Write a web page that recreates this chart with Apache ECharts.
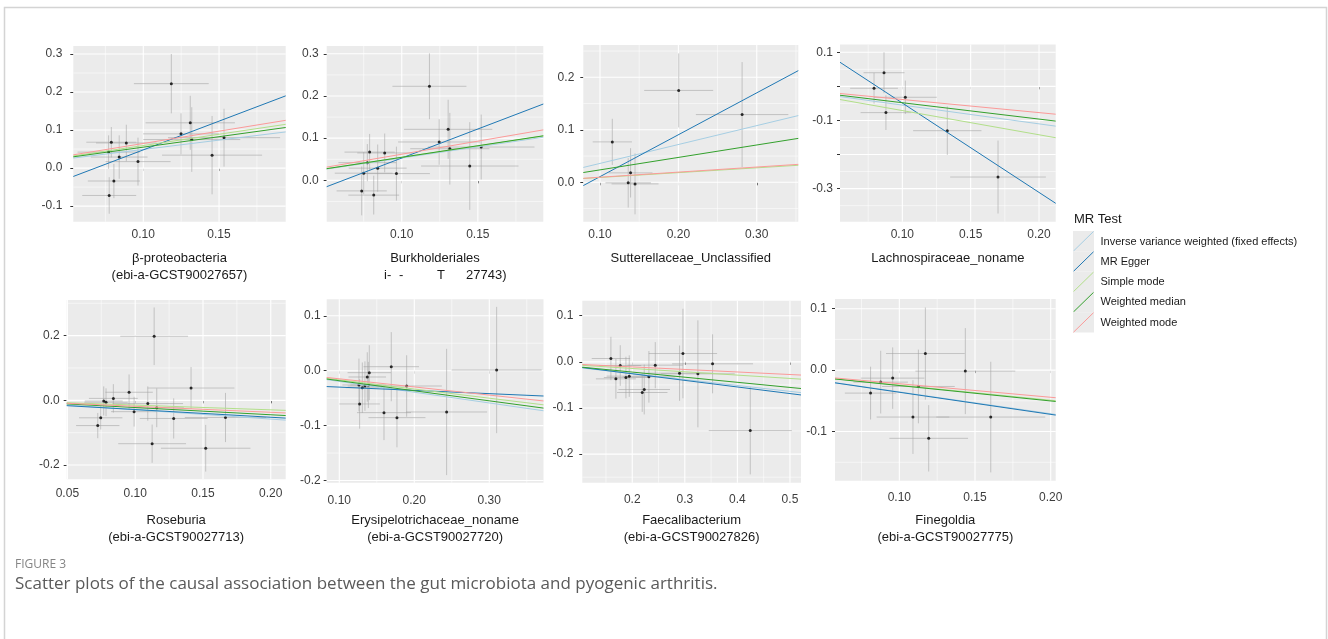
<!DOCTYPE html>
<html>
<head>
<meta charset="utf-8">
<script src="https://cdn.jsdelivr.net/npm/echarts@6/dist/echarts.min.js"></script>
<style>
  html, body { margin: 0; padding: 0; background: #fff; }
  #chart { width: 1328px; height: 639px; }
</style>
</head>
<body>
<div id="chart"></div>
<script>
// ---------------------------------------------------------------
// Per-SNP effects: [beta_exposure, se_exposure, beta_outcome, se_outcome]
// ---------------------------------------------------------------
const snpsBetaProteobacteria = [
  [0.1185, 0.0247, 0.222, 0.078], [0.1310, 0.0295, 0.119, 0.071],
  [0.1249, 0.0250, 0.090, 0.054], [0.1320, 0.0320, 0.075, 0.085],
  [0.1533, 0.0370, 0.080, 0.076], [0.1454, 0.0330, 0.034, 0.103],
  [0.0789, 0.0165, 0.068, 0.040], [0.0888, 0.0200, 0.066, 0.048],
  [0.0771, 0.0205, 0.042, 0.044], [0.0841, 0.0187, 0.029, 0.057],
  [0.0965, 0.0215, 0.017, 0.063], [0.0806, 0.0172, -0.034, 0.045],
  [0.0775, 0.0178, -0.072, 0.048]
];
const snpsBurkholderiales = [
  [0.1182, 0.0243, 0.223, 0.078], [0.1305, 0.0290, 0.121, 0.070],
  [0.1246, 0.0270, 0.091, 0.054], [0.1316, 0.0260, 0.075, 0.085],
  [0.1522, 0.0350, 0.079, 0.077], [0.1447, 0.0320, 0.034, 0.104],
  [0.0789, 0.0165, 0.067, 0.043], [0.0888, 0.0180, 0.065, 0.046],
  [0.0774, 0.0190, 0.042, 0.044], [0.0842, 0.0190, 0.029, 0.056],
  [0.0965, 0.0220, 0.016, 0.064], [0.0750, 0.0190, 0.017, 0.050],
  [0.0737, 0.0165, -0.025, 0.058], [0.0816, 0.0167, -0.035, 0.046]
];
const snpsSutterellaceae = [
  [0.2004, 0.044, 0.175, 0.0705], [0.2813, 0.059, 0.129, 0.100],
  [0.1157, 0.025, 0.077, 0.044], [0.1390, 0.028, 0.018, 0.047],
  [0.1360, 0.029, -0.001, 0.047], [0.1447, 0.030, -0.003, 0.058]
];
const snpsLachnospiraceae = [
  [0.0866, 0.0150, 0.040, 0.060], [0.0793, 0.0175, -0.0056, 0.045],
  [0.1022, 0.0230, -0.032, 0.049], [0.0880, 0.0185, -0.077, 0.051],
  [0.1329, 0.0250, -0.130, 0.071], [0.1700, 0.0350, -0.266, 0.107]
];
const snpsRoseburia = [
  [0.1140, 0.025, 0.198, 0.089], [0.1412, 0.032, 0.038, 0.065],
  [0.0955, 0.0175, 0.025, 0.055], [0.0839, 0.018, 0.006, 0.044],
  [0.0768, 0.014, -0.002, 0.045], [0.0785, 0.016, -0.006, 0.043],
  [0.1093, 0.026, -0.010, 0.053], [0.1159, 0.020, -0.023, 0.060],
  [0.0992, 0.017, -0.035, 0.046], [0.0746, 0.016, -0.054, 0.036],
  [0.0724, 0.016, -0.078, 0.039], [0.1284, 0.025, -0.056, 0.062],
  [0.1666, 0.030, -0.053, 0.076], [0.1125, 0.025, -0.134, 0.059],
  [0.1520, 0.033, -0.148, 0.072]
];
const snpsErysipelotrichaceae = [
  [0.3098, 0.060, 0.0012, 0.115], [0.1693, 0.037, 0.0073, 0.063],
  [0.1400, 0.029, -0.0036, 0.050], [0.1373, 0.025, -0.0115, 0.045],
  [0.1898, 0.047, -0.0279, 0.056], [0.1262, 0.022, -0.026, 0.048],
  [0.1342, 0.023, -0.028, 0.045], [0.1387, 0.024, -0.026, 0.042],
  [0.1307, 0.022, -0.031, 0.046], [0.1271, 0.027, -0.0606, 0.045],
  [0.1596, 0.036, -0.0764, 0.050], [0.1769, 0.038, -0.0855, 0.054],
  [0.2431, 0.054, -0.0752, 0.115]
];
const snpsFaecalibacterium = [
  [0.1594, 0.0365, 0.0072, 0.047], [0.1772, 0.040, -0.008, 0.044],
  [0.1689, 0.038, -0.0369, 0.043], [0.1880, 0.042, -0.034, 0.045],
  [0.1943, 0.043, -0.031, 0.045], [0.2190, 0.048, -0.0665, 0.042],
  [0.2228, 0.049, -0.060, 0.054], [0.2317, 0.050, -0.0325, 0.056],
  [0.2438, 0.053, -0.0072, 0.050], [0.2964, 0.065, 0.018, 0.097],
  [0.2900, 0.063, -0.0246, 0.060], [0.3249, 0.070, -0.026, 0.116],
  [0.3528, 0.077, -0.0043, 0.064], [0.4245, 0.079, -0.149, 0.095]
];
const snpsFinegoldia = [
  [0.1172, 0.026, 0.027, 0.075], [0.1436, 0.033, -0.0016, 0.070],
  [0.0877, 0.018, -0.0195, 0.051], [0.0956, 0.021, -0.013, 0.050],
  [0.1126, 0.024, -0.0266, 0.060], [0.0810, 0.017, -0.0374, 0.043],
  [0.1090, 0.024, -0.0764, 0.060], [0.1604, 0.036, -0.0764, 0.090],
  [0.1194, 0.026, -0.111, 0.054]
];

// ---------------------------------------------------------------
// MR estimates per exposure:
// [IVW slope, MR Egger slope, MR Egger intercept, Simple mode, Weighted median, Weighted mode]
// ---------------------------------------------------------------
const fitBetaProteobacteria    = [0.490, 1.512, -0.1034, 0.593, 0.550, 0.647];
const fitBurkholderiales       = [0.530, 1.377, -0.0848, 0.545, 0.547, 0.620];
const fitSutterellaceae        = [0.360, 0.798, -0.0690, 0.092, 0.237, 0.097];
const fitLachnospiraceae       = [-0.550, -2.622, 0.2133, -0.710, -0.480, -0.385];
const fitRoseburia             = [-0.290, -0.238, -0.0047, -0.147, -0.223, -0.185];
const fitErysipelotrichaceae   = [-0.196, -0.0594, -0.0240, -0.167, -0.183, -0.148];
const fitFaecalibacterium      = [-0.128, -0.143, 0.0027, -0.072, -0.111, -0.055];
const fitFinegoldia            = [-0.355, -0.360, 0.0000, -0.245, -0.251, -0.221];

// ---------------------------------------------------------------
// Panel captions and axis breaks
// ---------------------------------------------------------------
const panelTitleLine1 = [
  'β-proteobacteria', 'Burkholderiales', 'Sutterellaceae_Unclassified', 'Lachnospiraceae_noname',
  'Roseburia', 'Erysipelotrichaceae_noname', 'Faecalibacterium', 'Finegoldia'
];
const panelTitleLine2 = [
  '(ebi-a-GCST90027657)', null, null, null,
  '(ebi-a-GCST90027713)', '(ebi-a-GCST90027720)', '(ebi-a-GCST90027826)', '(ebi-a-GCST90027775)'
];
// second line under Burkholderiales, only partly legible
const burkholderialesIdFragments = ['i-', '-', 'T', '27743)'];

const xBreaks = [
  [0.10, 0.15], [0.10, 0.15], [0.10, 0.20, 0.30], [0.10, 0.15, 0.20],
  [0.05, 0.10, 0.15, 0.20], [0.10, 0.20, 0.30], [0.2, 0.3, 0.4, 0.5], [0.10, 0.15, 0.20]
];
const yBreaks = [
  [-0.1, 0.0, 0.1, 0.2, 0.3], [0.0, 0.1, 0.2, 0.3], [0.0, 0.1, 0.2], [-0.3, -0.2, -0.1, 0.0, 0.1],
  [-0.2, 0.0, 0.2], [-0.2, -0.1, 0.0, 0.1], [-0.2, -0.1, 0.0, 0.1], [-0.1, 0.0, 0.1]
];
const yLabelled = [
  [-0.1, 0.0, 0.1, 0.2, 0.3], [0.0, 0.1, 0.2, 0.3], [0.0, 0.1, 0.2], [-0.3, -0.1, 0.1],
  [-0.2, 0.0, 0.2], [-0.2, -0.1, 0.0, 0.1], [-0.2, -0.1, 0.0, 0.1], [-0.1, 0.0, 0.1]
];
const xDecimals = [2, 2, 2, 2, 2, 2, 1, 2];

const methodNames = [
  'Inverse variance weighted (fixed effects)', 'MR Egger', 'Simple mode',
  'Weighted median', 'Weighted mode'
];
const methodColors = ['#A6CEE3', '#1F78B4', '#B2DF8A', '#33A02C', '#FB9A99'];

const legendTitle = 'MR Test';
const figureLabel = 'FIGURE 3';
const figureCaption = 'Scatter plots of the causal association between the gut microbiota and pyogenic arthritis.';

// ---------------------------------------------------------------
// Layout: plot rectangle [left, top, right, bottom] and axis ranges
// ---------------------------------------------------------------
const panelRects = [
  [73.3, 46, 285.7, 221.7], [326.7, 46, 543.3, 221.7], [583.3, 45, 798.3, 221.7], [840, 44.5, 1055.7, 221.7],
  [66.7, 300, 285.7, 479.3], [326.7, 299.3, 543.5, 482.7], [582.3, 300.7, 801, 482.7], [835, 299, 1055.7, 480.7]
];
const xRanges = [
  [0.0538, 0.194], [0.0507, 0.193], [0.0787, 0.353], [0.0544, 0.2122],
  [0.0495, 0.211], [0.0832, 0.3723], [0.105, 0.521], [0.0575, 0.2033]
];
const yRanges = [
  [-0.141, 0.321], [-0.098, 0.3185], [-0.075, 0.2615], [-0.397, 0.1228],
  [-0.244, 0.31], [-0.204, 0.130], [-0.262, 0.1325], [-0.18, 0.1158]
];
const xLabelMargin = [7, 7, 7, 7, 8, 12, 11, 11];
const yLabelMargin = [11, 8, 9, 7, 7, 6, 9, 8];

const allSnps = [snpsBetaProteobacteria, snpsBurkholderiales, snpsSutterellaceae, snpsLachnospiraceae,
  snpsRoseburia, snpsErysipelotrichaceae, snpsFaecalibacterium, snpsFinegoldia];
const allFits = [fitBetaProteobacteria, fitBurkholderiales, fitSutterellaceae, fitLachnospiraceae,
  fitRoseburia, fitErysipelotrichaceae, fitFaecalibacterium, fitFinegoldia];

const FONT = '"Liberation Sans", Arial, Helvetica, sans-serif';
const TEXT_DARK = '#1a1a1a';
const AXIS_TEXT = '#3d3d3d';

// minor breaks sit halfway between neighbouring major breaks
function minorBreaks(major, range) {
  const step = major.length > 1 ? major[1] - major[0] : 0.1;
  const out = [];
  for (let v = major[0] - step / 2; v <= range[1] + 1e-9; v += step) {
    if (v >= range[0] - 1e-9) out.push(+v.toFixed(6));
  }
  return out;
}

const grids = [], xAxes = [], yAxes = [], series = [], graphics = [];

allSnps.forEach((snps, i) => {
  const [l, t, r, b] = panelRects[i];
  const xr = xRanges[i], yr = yRanges[i];
  const fit = allFits[i];

  grids.push({
    left: l, top: t, width: r - l, height: b - t,
    show: true, backgroundColor: '#EBEBEB', borderWidth: 0,
    containLabel: false, outerBoundsMode: 'none'
  });

  const xd = xDecimals[i];
  xAxes.push({
    type: 'value', gridIndex: i, min: xr[0], max: xr[1],
    axisLine: { show: false },
    axisTick: { show: true, length: 3, lineStyle: { color: '#333', width: 1 }, customValues: xBreaks[i] },
    axisLabel: {
      customValues: xBreaks[i], margin: xLabelMargin[i],
      color: AXIS_TEXT, fontSize: 12, fontFamily: FONT,
      formatter: v => Number(v).toFixed(xd)
    },
    splitLine: { show: false }
  });
  yAxes.push({
    type: 'value', gridIndex: i, min: yr[0], max: yr[1],
    axisLine: { show: false },
    axisTick: { show: true, length: 3, lineStyle: { color: '#333', width: 1 }, customValues: yBreaks[i] },
    axisLabel: {
      customValues: yLabelled[i], margin: yLabelMargin[i],
      color: AXIS_TEXT, fontSize: 12, fontFamily: FONT,
      formatter: v => Number(v).toFixed(1)
    },
    splitLine: { show: false }
  });

  // panel grid lines: [value, dimension (0 = x, 1 = y), major flag]
  const gridData = [];
  xBreaks[i].forEach(v => gridData.push([v, 0, 1]));
  minorBreaks(xBreaks[i], xr).forEach(v => gridData.push([v, 0, 0]));
  yBreaks[i].forEach(v => gridData.push([v, 1, 1]));
  minorBreaks(yBreaks[i], yr).forEach(v => gridData.push([v, 1, 0]));

  series.push({
    type: 'custom', xAxisIndex: i, yAxisIndex: i, silent: true, z: 1,
    data: gridData,
    encode: { x: 0 },
    renderItem: (params, api) => {
      const cs = params.coordSys;
      const v = api.value(0), dim = api.value(1), major = api.value(2);
      const w = major ? 1.1 : 0.55;
      if (dim === 0) {
        const px = api.coord([v, yr[0]])[0];
        if (px < cs.x - 0.5 || px > cs.x + cs.width + 0.5) return null;
        return { type: 'line', shape: { x1: px, y1: cs.y, x2: px, y2: cs.y + cs.height },
          style: { stroke: '#FFFFFF', lineWidth: w } };
      }
      const py = api.coord([xr[0], v])[1];
      if (py < cs.y - 0.5 || py > cs.y + cs.height + 0.5) return null;
      return { type: 'line', shape: { x1: cs.x, y1: py, x2: cs.x + cs.width, y2: py },
        style: { stroke: '#FFFFFF', lineWidth: w } };
    }
  });

  // error bars (±1 SE on both exposure and outcome)
  series.push({
    type: 'custom', xAxisIndex: i, yAxisIndex: i, silent: true, z: 2,
    data: snps,
    encode: { x: 0, y: 2 },
    renderItem: (params, api) => {
      const bx = api.value(0), sx = api.value(1), by = api.value(2), sy = api.value(3);
      const a = api.coord([bx - sx, by]), c = api.coord([bx + sx, by]);
      const d = api.coord([bx, by - sy]), e = api.coord([bx, by + sy]);
      const st = { stroke: 'rgba(160,160,160,0.55)', lineWidth: 1 };
      return { type: 'group', children: [
        { type: 'line', shape: { x1: a[0], y1: a[1], x2: c[0], y2: c[1] }, style: st },
        { type: 'line', shape: { x1: d[0], y1: d[1], x2: e[0], y2: e[1] }, style: st }
      ] };
    }
  });

  // SNP points
  series.push({
    type: 'scatter', xAxisIndex: i, yAxisIndex: i, silent: true, z: 3,
    symbol: 'circle', symbolSize: 3,
    itemStyle: { color: '#000' },
    data: snps.map(s => [s[0], s[2]])
  });

  // MR regression lines across the whole x range
  const lines = [
    { slope: fit[0], icpt: 0 },
    { slope: fit[1], icpt: fit[2] },
    { slope: fit[3], icpt: 0 },
    { slope: fit[4], icpt: 0 },
    { slope: fit[5], icpt: 0 }
  ];
  lines.forEach((ln, k) => {
    series.push({
      type: 'line', xAxisIndex: i, yAxisIndex: i, silent: true, z: 4 + k,
      name: methodNames[k], showSymbol: false, symbol: 'none', clip: true,
      lineStyle: { color: methodColors[k], width: 1 },
      data: [
        [xr[0], ln.icpt + ln.slope * xr[0]],
        [xr[1], ln.icpt + ln.slope * xr[1]]
      ]
    });
  });

  // panel titles below each plot
  const cx = (l + r) / 2;
  const row2 = i >= 4;
  const y1 = row2 ? 520 : 258, y2 = row2 ? 537 : 275;
  graphics.push({
    type: 'text', x: cx, y: y1, silent: true,
    style: { text: panelTitleLine1[i], font: '13px ' + FONT, fill: TEXT_DARK,
      textAlign: 'center', textVerticalAlign: 'middle' }
  });
  if (panelTitleLine2[i]) {
    graphics.push({
      type: 'text', x: cx, y: y2, silent: true,
      style: { text: panelTitleLine2[i], font: '13px ' + FONT, fill: TEXT_DARK,
        textAlign: 'center', textVerticalAlign: 'middle' }
    });
  }
});

// partly legible identifier under Burkholderiales
[384, 399, 437, 466].forEach((x, k) => {
  graphics.push({
    type: 'text', x: x, y: 275, silent: true,
    style: { text: burkholderialesIdFragments[k], font: '13px ' + FONT, fill: TEXT_DARK,
      textAlign: 'left', textVerticalAlign: 'middle' }
  });
});

// legend
graphics.push({
  type: 'text', x: 1074, y: 219, silent: true,
  style: { text: legendTitle, font: '13px ' + FONT, fill: TEXT_DARK, textAlign: 'left', textVerticalAlign: 'middle' }
});
methodNames.forEach((name, k) => {
  const ky = 231 + k * 20.3;
  graphics.push({
    type: 'rect', silent: true, shape: { x: 1073, y: ky, width: 21, height: 20.3 },
    style: { fill: '#EBEBEB' }
  });
  graphics.push({
    type: 'line', silent: true, shape: { x1: 1073.5, y1: ky + 20, x2: 1093.5, y2: ky + 0.5 },
    style: { stroke: methodColors[k], lineWidth: 1 }
  });
  graphics.push({
    type: 'text', x: 1100.5, y: ky + 10.5, silent: true,
    style: { text: name, font: '11px ' + FONT, fill: TEXT_DARK, textAlign: 'left', textVerticalAlign: 'middle' }
  });
});

// figure frame and caption
graphics.push({
  type: 'rect', silent: true, z: -10,
  shape: { x: 4.5, y: 7.5, width: 1322, height: 700 },
  style: { fill: 'none', stroke: '#D4D4D4', lineWidth: 1.5 }
});
graphics.push({
  type: 'text', x: 15, y: 565, silent: true,
  style: { text: figureLabel, font: '12px "Open Sans", ' + FONT, fill: '#858585', textAlign: 'left', textVerticalAlign: 'middle' }
});
graphics.push({
  type: 'text', x: 15, y: 584, silent: true,
  style: { text: figureCaption, font: '17px "Open Sans", ' + FONT, fill: '#5a5a5a', textAlign: 'left', textVerticalAlign: 'middle' }
});

const chart = echarts.init(document.getElementById('chart'), null, { renderer: 'canvas' });
chart.setOption({
  animation: false,
  backgroundColor: '#FFFFFF',
  grid: grids,
  xAxis: xAxes,
  yAxis: yAxes,
  series: series,
  graphic: { elements: graphics }
});
</script>
</body>
</html>
